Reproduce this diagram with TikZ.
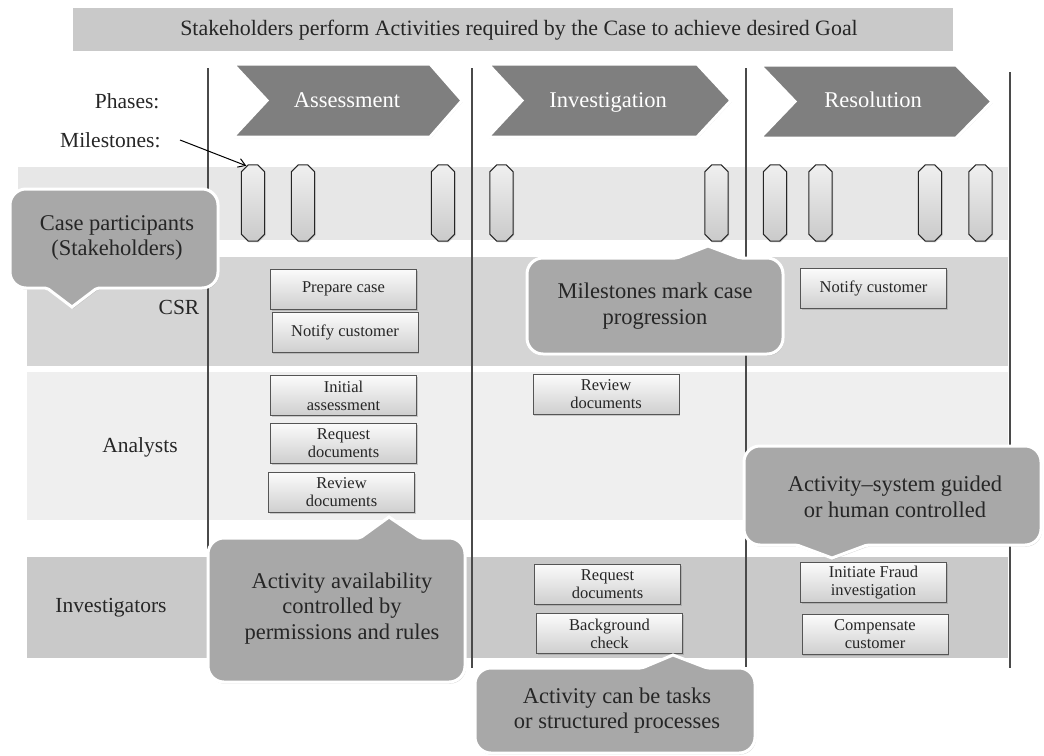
\documentclass[tikz,border=0pt]{standalone}
\usepackage{fontspec}
\setmainfont{Liberation Serif}
\usetikzlibrary{shadows,arrows.meta}
\newcommand\fsz[2]{\fontsize{#1}{#2}\selectfont}
\definecolor{ink}{HTML}{262626}
\definecolor{titlebg}{HTML}{C9C9C9}
\definecolor{bandms}{HTML}{E7E7E7}
\definecolor{bandcsr}{HTML}{D5D5D5}
\definecolor{bandan}{HTML}{EFEFEF}
\definecolor{bandinv}{HTML}{C9C9C9}
\definecolor{lanecol}{HTML}{4A4A4A}
\definecolor{phasecol}{HTML}{7F7F7F}
\definecolor{callcol}{HTML}{A8A8A8}
\definecolor{boxline}{HTML}{555555}
\begin{document}
\begin{tikzpicture}[x=1pt,y=-1pt,
  lane/.style={draw=lanecol, line width=2.6pt},
  phase/.style={fill=phasecol, draw=white, line width=3pt, line join=miter,
    drop shadow={shadow xshift=0.8pt, shadow yshift=-1.2pt, opacity=.3}},
  phasetext/.style={text=white, font=\fsz{22.5}{27}, text height=11pt, text depth=0pt},
  rowlabel/.style={text=ink, font=\fsz{21.5}{25}},
  msbox/.style={inner sep=0pt, minimum width=23pt, minimum height=76pt},
  msshape/.style={draw=black!85, line width=1pt, top color=gray!12, bottom color=gray!42,
    drop shadow={shadow xshift=0.8pt, shadow yshift=-1.2pt, opacity=.3}},
  actbox/.style={rectangle, draw=boxline, line width=0.9pt, top color=gray!3, bottom color=gray!38,
    minimum width=146pt, minimum height=40pt, inner sep=1pt, align=center,
    text=ink, font=\fsz{16.5}{18},
    drop shadow={shadow xshift=1.2pt, shadow yshift=-1.6pt, opacity=.35}},
  callout/.style={fill=callcol, draw=white, line width=3pt,
    drop shadow={shadow xshift=1pt, shadow yshift=-1.6pt, opacity=.35}},
  calltext/.style={align=center, text=ink, font=\fsz{22.5}{25.5}}
]
\useasboundingbox (0,0) rectangle (1044,755);

% heading bar
\fill[titlebg] (73,8) rectangle (953,51);
\node[text=ink, font=\fsz{21.9}{25}] (title) at (519,30)
  {Stakeholders perform Activities required by the Case to achieve desired Goal};

% swim-lane bands
\fill[bandms]  (18,167) rectangle (1008,240);
\fill[bandcsr] (27,257) rectangle (1008,366);
\fill[bandan]  (27,372) rectangle (1008,520);
\fill[bandinv] (27,557) rectangle (1008,658);

% phase separators
\draw[lane] (208,68) -- (208,668);
\draw[lane] (472,68) -- (472,668);
\draw[lane] (746,68) -- (746,667);
\draw[lane] (1010,72) -- (1010,668);

% phase chevrons
\path[phase] (233,64) -- (430,64) -- (462,100.5) -- (430,137) -- (233,137) -- (267,100.5) -- cycle;
\path[phase] (488,64) -- (697,64) -- (731,100.5) -- (697,137) -- (488,137) -- (522,100.5) -- cycle;
\path[phase] (760,65) -- (956,65) -- (992,101.5) -- (956,138) -- (760,138) -- (795,101.5) -- cycle;
\node[phasetext] (ph1) at (347,102) {Assessment};
\node[phasetext] (ph2) at (608,102) {Investigation};
\node[phasetext] (ph3) at (873,102) {Resolution};

\node[rowlabel, anchor=east] (phlabel) at (163,101) {Phases:};
\node[rowlabel, anchor=east] (mslabel) at (164,140) {Milestones:};

% milestones
\foreach \nm/\cx in {m1/253, m2/303, m3/443, m4/501.5, m5/716.5, m6/775, m7/820.5, m8/930, m9/980.5} {
  \node[msbox] (\nm) at (\cx,203) {};
  \path[msshape] ([xshift=7pt]\nm.north west) -- ([xshift=-7pt]\nm.north east)
    -- ([yshift=-7pt]\nm.north east) -- ([yshift=7pt]\nm.south east)
    -- ([xshift=-7pt]\nm.south east) -- ([xshift=7pt]\nm.south west)
    -- ([yshift=7pt]\nm.south west) -- ([yshift=-7pt]\nm.north west) -- cycle;
}
\draw[line width=1pt, -{Straight Barb[length=7pt,width=9pt]}]
  ([xshift=16pt]mslabel.east) -- ([xshift=5pt,yshift=-1pt]m1.north west);

% participant rows
\node[rowlabel] (csr) at (179,307) {CSR};
\node[rowlabel] (analysts) at (140,447) {Analysts};
\node[rowlabel] (investigators) at (111,608) {Investigators};

% activities
\node[actbox] (a1)  at (343.5,289)   {Prepare case};
\node[actbox] (a2)  at (345,332.5)   {Notify customer};
\node[actbox] (a3)  at (343.5,395.5) {Initial\\assessment};
\node[actbox] (a4)  at (343.5,443)   {Request\\documents};
\node[actbox] (a5)  at (341.5,492.5) {Review\\documents};
\node[actbox] (a6)  at (606,394.5)   {Review\\documents};
\node[actbox] (a7)  at (873.5,288.5) {Notify customer};
\node[actbox] (a8)  at (607.5,584)   {Request\\documents};
\node[actbox] (a9)  at (609.5,633.5) {Background\\check};
\node[actbox] (a10) at (873.5,582.5) {Initiate Fraud\\investigation};
\node[actbox] (a11) at (875,634.5)   {Compensate\\customer};

% callouts
\path[callout] (118,189) [rounded corners=16pt] -- (218,189) -- (218,288)
  [rounded corners=2pt] -- (97,288) [sharp corners] -- (72,307)
  [rounded corners=2pt] -- (47,288) [rounded corners=16pt] -- (10,288) -- (10,189) -- cycle;
\node[calltext] (c1) at (117,238) {Case participants\\(Stakeholders)};

\path[callout] (527,306) [rounded corners=16pt] -- (527,258)
  [rounded corners=2pt] -- (677,258) [sharp corners] -- (708,246)
  [rounded corners=2pt] -- (740,258) [rounded corners=16pt] -- (783,258) -- (783,354) -- (527,354) -- cycle;
\node[calltext] (c2) at (655,306) {Milestones mark case\\progression};

\path[callout] (208,610) [rounded corners=16pt] -- (208,538)
  [rounded corners=2pt] -- (360,538) [sharp corners] -- (389,517)
  [rounded corners=2pt] -- (420,538) [rounded corners=16pt] -- (465,538) -- (465,682) -- (208,682) -- cycle;
\node[calltext] (c3) at (342,608.5) {Activity availability\\controlled by\\permissions and rules};

\path[callout] (475,710) [rounded corners=16pt] -- (475,668)
  [rounded corners=2pt] -- (642,668) [sharp corners] -- (673,655)
  [rounded corners=2pt] -- (707,668) [rounded corners=16pt] -- (755,668) -- (755,753) -- (475,753) -- cycle;
\node[calltext] (c4) at (617,710.5) {Activity can be tasks\\or structured processes};

\path[callout] (894,446) [rounded corners=16pt] -- (1041,446) -- (1041,545)
  [rounded corners=2pt] -- (867,545) [sharp corners] -- (832,558)
  [rounded corners=2pt] -- (797,545) [rounded corners=16pt] -- (744,545) -- (744,446) -- cycle;
\node[calltext] (c5) at (895,497) {Activity--system guided\\or human controlled};
\end{tikzpicture}
\end{document}
